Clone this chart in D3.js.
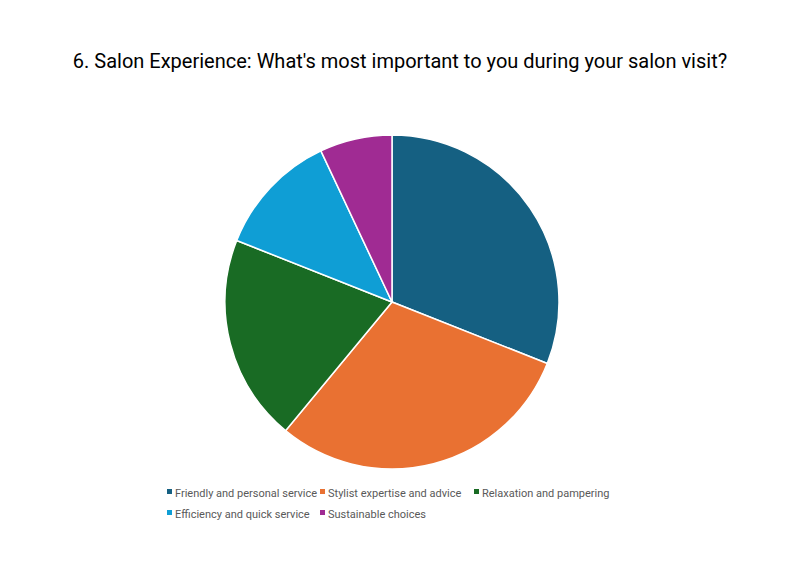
<!DOCTYPE html>
<html><head><meta charset="utf-8">
<script src="https://cdn.jsdelivr.net/npm/d3@7"></script>
<style>body{margin:0;background:#fff}</style>
</head><body><svg id="c" width="800" height="576"></svg>
<script>
var categories = ["Friendly and personal service","Stylist expertise and advice","Relaxation and pampering","Efficiency and quick service","Sustainable choices"];
var values = [31, 30, 20, 12, 7];
var colors = ["#156082","#E97132","#196B24","#0F9ED5","#A02B93"];

var svg = d3.select("#c");
svg.append("text").attr("x", 400).attr("y", 68).attr("text-anchor", "middle")
  .attr("font-family", "Roboto, 'Open Sans', sans-serif").attr("font-size", 20).attr("fill", "#000")
  .text("6. Salon Experience: What's most important to you during your salon visit?");

var pie = d3.pie().sort(null)(values);
var arc = d3.arc().innerRadius(0).outerRadius(167);
var g = svg.append("g").attr("transform", "translate(392,302)");
g.selectAll("path").data(pie).enter().append("path")
  .attr("d", arc).attr("fill", function (d, i) { return colors[i]; })
  .attr("stroke", "#fff").attr("stroke-width", 1.5);

var rows = [[0,1,2],[3,4]];
var xs = [[167,320,474],[167,320]];
rows.forEach(function (r, ri) {
  r.forEach(function (ci, k) {
    var lg = svg.append("g").attr("transform", "translate(" + xs[ri][k] + "," + (493 + ri * 21) + ")");
    lg.append("rect").attr("x", 0).attr("y", -4).attr("width", 5).attr("height", 5).attr("fill", colors[ci]);
    lg.append("text").attr("x", 8).attr("y", 0).attr("dy", "0.35em")
      .attr("font-family", "Roboto, 'Open Sans', sans-serif").attr("font-size", 11).attr("fill", "#595959")
      .text(categories[ci]);
  });
});
</script></body></html>
